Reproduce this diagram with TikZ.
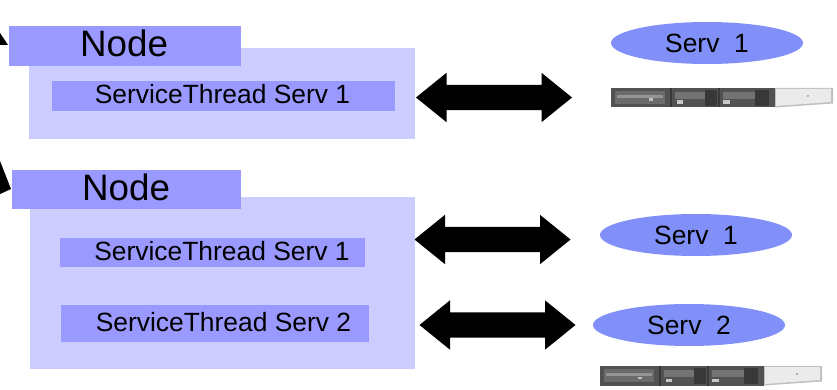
\documentclass[tikz,border=0pt]{standalone}
\usepackage{fontspec}
\setmainfont{Liberation Sans}
\usetikzlibrary{shapes.geometric,shapes.arrows}
\definecolor{nodeblue}{HTML}{9999FF}
\definecolor{paleblue}{HTML}{CCCCFF}
\definecolor{ellblue}{HTML}{8090F8}
\tikzset{
  pxbox/.style 2 args={minimum width=#1pt,minimum height=#2pt,inner sep=0pt,outer sep=0pt,anchor=north west},
  outerbox/.style={fill=paleblue,draw=none},
  nodebox/.style={fill=nodeblue,draw=none},
  threadbox/.style={fill=nodeblue,draw=none},
  bigtext/.style={font=\fontsize{36.8}{40}\selectfont},
  smalltext/.style={font=\fontsize{26.4}{30}\selectfont},
  servell/.style={ellipse,fill=ellblue,draw=none,minimum width=192pt,minimum height=42pt,inner sep=0pt,smalltext},
  bothways/.style={double arrow,fill=black,draw=none,inner xsep=0pt,inner ysep=12.5pt,minimum height=156pt,minimum width=49pt,
    double arrow head extend=12pt,double arrow tip angle=78,anchor=center},
  pics/server/.style={code={
    \fill[black!68] (0,0) rectangle (164,19.5);
    \fill[black!58] (4,3) rectangle (54,16);
    \fill[black!42] (6,7) rectangle (52,10);
    \fill[black!78] (59,0) rectangle (61,19.5);
    \fill[black!78] (107,0) rectangle (109,19.5);
    \fill[black!55] (64,4) rectangle (94,11);
    \fill[black!55] (112,4) rectangle (144,11);
    \fill[black!78] (94,2) rectangle (106,18);
    \fill[black!78] (144,2) rectangle (158,18);
    \fill[black!22] (66,12.5) rectangle (72,16);
    \fill[black!22] (112,12.5) rectangle (119,16);
    \fill[black!25] (38,10.5) rectangle (42,13);
    \fill[black!25] (164,0) -- (222,0) -- (222,15.5) -- (164,19.5) -- cycle;
    \fill[black!8] (165,1) -- (220,1) -- (220,14) -- (165,18) -- cycle;
    \fill[black!30] (196,7) rectangle (198,9);
  }}
}
\begin{document}
\begin{tikzpicture}[x=1pt,y=-1pt]
\useasboundingbox (0,0) rectangle (837,390);
\begin{scope}
\clip (0,0) rectangle (837,390);
\fill[black] (0,33) -- (8,45) -- (0,45) -- cycle;
\fill[black] (0,161) -- (11,189) -- (0,194) -- cycle;

\node[pxbox={386}{91},outerbox] (outerA) at (29,48) {};
\node[pxbox={232}{40},nodebox] (nodeA) at (9,26) {};
\node[bigtext] (nodeAtext) at (124,43.5) {Node};
\node[pxbox={343}{30},threadbox] (threadA) at (52,81) {};
\node[smalltext] (threadAtext) at (222.5,94) {ServiceThread Serv 1};

\node[pxbox={385}{172},outerbox] (outerB) at (30,197) {};
\node[pxbox={229}{39},nodebox] (nodeB) at (12,170) {};
\node[bigtext] (nodeBtext) at (126,187.5) {Node};
\node[pxbox={305}{29},threadbox] (threadB) at (60,238) {};
\node[smalltext] (threadBtext) at (222,251) {ServiceThread Serv 1};
\node[pxbox={308}{37},threadbox] (threadC) at (61,305) {};
\node[smalltext] (threadCtext) at (223.5,322) {ServiceThread Serv 2};

\node[bothways] (arrowA) at (494,97.5) {};
\node[bothways] (arrowB) at (492.5,239.5) {};
\node[bothways] (arrowC) at (497.5,325) {};

\node[servell] (servA) at (707,43) {Serv\ \ 1};
\node[servell] (servB) at (696,235) {Serv\ \ 1};
\node[servell] (servC) at (689,325) {Serv\ \ 2};

\pic at (611,88) {server};
\pic at (600,366) {server};
\end{scope}
\end{tikzpicture}
\end{document}
